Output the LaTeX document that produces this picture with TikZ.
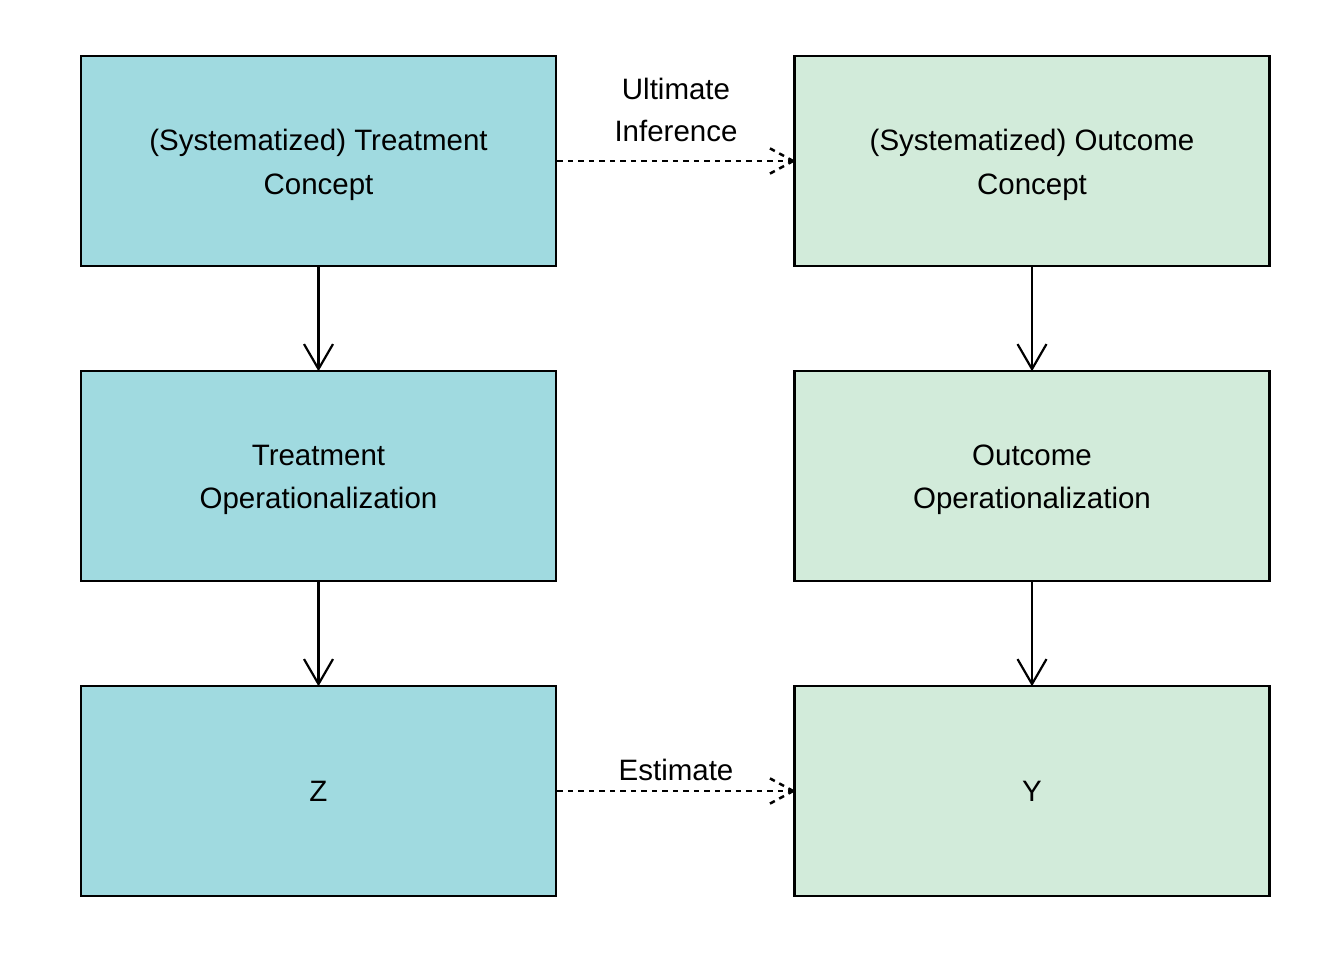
\documentclass[tikz,border=0pt]{standalone}
\usepackage{fontspec}
\setmainfont{Liberation Sans}
\usetikzlibrary{arrows.meta}
\definecolor{treat}{HTML}{A0DAE0}
\definecolor{outc}{HTML}{D2EBDA}
\begin{document}
\begin{tikzpicture}[x=1pt,y=-1pt,
  box/.style={draw=black,line width=2.5pt,minimum width=475pt,minimum height=210pt,inner sep=0pt,align=center,
    font=\fontsize{29.5}{43.5}\selectfont},
  tbox/.style={box,fill=treat},
  obox/.style={box,fill=outc},
  txt/.style={align=center,font=\fontsize{29.5}{43.5}\selectfont},
  solidlink/.style={line width=2.2pt,-{Straight Barb[length=25pt,width=29pt,line width=2.2pt]},shorten >=-1.5pt},
  dashlink/.style={line width=2.5pt,dash pattern=on 5.5pt off 5pt},
  lbl/.style={font=\fontsize{29.5}{42}\selectfont,align=center}]
\useasboundingbox (0,0) rectangle (1344,960);
\node[tbox,label={[txt,yshift=-4pt]center:(Systematized) Treatment\\Concept}] (tc) at (318.5,161) {};
\node[tbox,label={[txt,yshift=-4pt]center:Treatment\\Operationalization}] (to) at (318.5,476) {};
\node[tbox] (z) at (318.5,791) {Z};
\node[obox,label={[txt,yshift=-4pt]center:(Systematized) Outcome\\Concept}] (oc) at (1032,161) {};
\node[obox,label={[txt,yshift=-4pt]center:Outcome\\Operationalization}] (oo) at (1032,476) {};
\node[obox] (y) at (1032,791) {Y};
\draw[solidlink] (tc) -- (to);
\draw[solidlink] (to) -- (z);
\draw[solidlink] (oc) -- (oo);
\draw[solidlink] (oo) -- (y);
\draw[dashlink] (tc.east) -- (oc.west);
\draw[dashlink] (oc.west) -- ++(-24,-13) (oc.west) -- ++(-24,13);
\draw[dashlink] (z.east) -- (y.west);
\draw[dashlink] (y.west) -- ++(-24,-13) (y.west) -- ++(-24,13);
\node[lbl] (ui) at (676,110) {Ultimate\\Inference};
\node[lbl] (est) at (676,770) {Estimate};
\end{tikzpicture}
\end{document}
